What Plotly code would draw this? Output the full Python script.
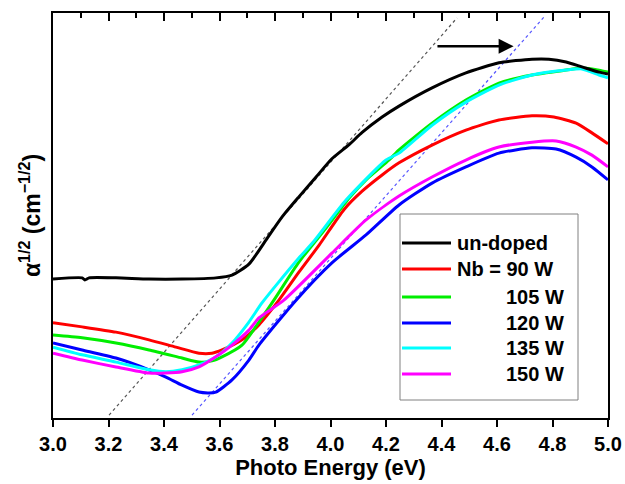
import plotly.graph_objects as go

# ---------------- data ----------------
undoped_E = [3.0, 3.105, 3.115, 3.13, 3.227, 3.346, 3.465, 3.587, 3.645, 3.706, 3.768, 3.825,
             3.886, 3.948, 4.005, 4.067, 4.114, 4.186, 4.247, 4.366, 4.488, 4.607, 4.726,
             4.787, 4.849, 4.906, 4.968, 5.0]
undoped_v = [34.3, 34.6, 34.1, 34.6, 34.6, 34.3, 34.3, 34.6, 35.3, 38.0, 44.0, 49.6,
             54.6, 59.5, 64.0, 67.5, 70.5, 74.3, 77.0, 81.5, 85.2, 87.7, 88.6,
             88.6, 87.9, 86.7, 85.4, 84.9]

nb90_E = [3.0, 3.105, 3.227, 3.346, 3.443, 3.526, 3.573, 3.609, 3.681, 3.742, 3.814, 3.886,
          3.959, 4.049, 4.114, 4.186, 4.247, 4.366, 4.488, 4.607, 4.726, 4.805, 4.885, 4.942, 5.0]
nb90_v = [23.5, 22.5, 21.2, 19.3, 17.5, 16.0, 16.0, 16.8, 19.3, 23.0, 29.1, 36.0,
          42.7, 51.5, 56.0, 60.0, 63.0, 67.4, 71.1, 73.6, 74.6, 74.3, 72.8, 70.4, 67.7]

nb105_E = [3.0, 3.105, 3.227, 3.346, 3.465, 3.526, 3.573, 3.609, 3.681, 3.742, 3.796, 3.886,
           3.984, 4.067, 4.128, 4.211, 4.247, 4.366, 4.488, 4.607, 4.726, 4.849, 4.906, 4.968, 5.0]
nb105_v = [20.5, 19.8, 18.5, 16.8, 14.8, 13.8, 14.1, 15.1, 18.0, 23.7, 29.1, 38.5,
           46.9, 54.3, 58.8, 63.7, 66.2, 72.8, 78.5, 82.7, 84.7, 85.9, 86.4, 85.9, 85.4]

nb120_E = [3.0, 3.105, 3.227, 3.346, 3.407, 3.465, 3.526, 3.562, 3.587, 3.645, 3.706, 3.742,
           3.876, 4.005, 4.128, 4.247, 4.366, 4.488, 4.607, 4.726, 4.813, 4.885, 4.942, 5.0]
nb120_v = [18.5, 16.8, 14.8, 11.9, 10.1, 8.1, 6.4, 6.2, 6.4, 9.4, 14.3, 18.0,
           29.1, 38.3, 45.2, 52.6, 58.0, 62.0, 65.4, 66.7, 66.4, 64.4, 62.0, 58.8]

nb135_E = [3.0, 3.105, 3.227, 3.346, 3.407, 3.465, 3.526, 3.587, 3.645, 3.706, 3.753, 3.814,
           3.886, 3.941, 4.056, 4.200, 4.247, 4.366, 4.488, 4.607, 4.726, 4.849, 4.906, 4.968, 5.0]
nb135_v = [17.5, 15.6, 13.8, 11.9, 11.4, 11.9, 13.1, 15.1, 18.5, 23.7, 28.4, 33.6,
           39.5, 43.7, 53.8, 63.7, 65.4, 72.3, 78.0, 82.2, 84.7, 85.9, 86.2, 84.7, 84.0]

nb150_E = [3.0, 3.105, 3.227, 3.346, 3.407, 3.465, 3.526, 3.587, 3.645, 3.706, 3.742, 3.832,
           4.005, 4.128, 4.247, 4.366, 4.488, 4.607, 4.726, 4.813, 4.885, 4.942, 5.0]
nb150_v = [16.0, 14.3, 12.6, 11.1, 11.1, 11.4, 12.6, 15.1, 18.0, 21.7, 24.7, 29.1,
           40.7, 48.9, 54.8, 59.5, 63.7, 66.9, 68.1, 68.4, 66.9, 64.9, 62.0]

# Tauc-fit guide lines (end points)
fit_undoped_E = [3.202, 4.456]
fit_undoped_v = [0.7, 98.8]
fit_doped_E = [3.501, 4.769]
fit_doped_v = [0.7, 99.0]

# shift arrow
arrow_E = [4.38, 4.66]
arrow_v = [91.8, 91.8]

series_names = ["un-doped", "Nb = 90 W", "105 W", "120 W", "135 W", "150 W"]
series_colors = ["#000000", "#ff0000", "#00ee00", "#0000ff", "#00ffff", "#ff00ff"]
x_tickvals = [3.0, 3.2, 3.4, 3.6, 3.8, 4.0, 4.2, 4.4, 4.6, 4.8, 5.0]
x_ticktext = ["3.0", "3.2", "3.4", "3.6", "3.8", "4.0", "4.2", "4.4", "4.6", "4.8", "5.0"]

series = [(undoped_E, undoped_v), (nb90_E, nb90_v), (nb105_E, nb105_v),
          (nb120_E, nb120_v), (nb135_E, nb135_v), (nb150_E, nb150_v)]

FONT = "Arial, Liberation Sans, sans-serif"

fig = go.Figure()

# dashed fit lines (under the data)
fig.add_trace(go.Scatter(x=fit_undoped_E, y=fit_undoped_v, mode="lines",
                         line=dict(color="#555555", width=1.2, dash="3px,3px"),
                         showlegend=False, hoverinfo="skip"))
fig.add_trace(go.Scatter(x=fit_doped_E, y=fit_doped_v, mode="lines",
                         line=dict(color="#5555ff", width=1.2, dash="3px,3px"),
                         showlegend=False, hoverinfo="skip"))

for i in [1, 2, 3, 4, 5, 0]:
    E, v = series[i]
    fig.add_trace(go.Scatter(x=E, y=v, mode="lines", name=series_names[i],
                             line=dict(color=series_colors[i], width=3, shape="spline", smoothing=0.6),
                             showlegend=False))

# invisible trace that carries the top axis
fig.add_trace(go.Scatter(x=[3.0, 5.0], y=[None, None], xaxis="x2", mode="lines",
                         showlegend=False, hoverinfo="skip"))

# arrow
fig.add_annotation(x=arrow_E[1], y=arrow_v[1], ax=arrow_E[0], ay=arrow_v[0],
                   xref="x", yref="y", axref="x", ayref="y", text="",
                   showarrow=True, arrowhead=2, arrowsize=1.2, arrowwidth=2.5,
                   arrowcolor="#000000")

# ---------------- manual legend ----------------
plot_l, plot_r, plot_t, plot_b = 53, 608, 13, 418
def px_x(px):
    return (px - plot_l) / (plot_r - plot_l)
def px_y(py):
    return (plot_b - py) / (plot_b - plot_t)

fig.add_shape(type="rect", xref="paper", yref="paper",
              x0=px_x(400), x1=px_x(578), y0=px_y(400), y1=px_y(214),
              line=dict(color="#808080", width=1), fillcolor="white", layer="above")
rows = [243, 269, 297, 323, 348, 374]
for i, row in enumerate(rows):
    fig.add_shape(type="line", xref="paper", yref="paper",
                  x0=px_x(402), x1=px_x(451), y0=px_y(row), y1=px_y(row),
                  line=dict(color=series_colors[i], width=3), layer="above")
    if i < 2:
        fig.add_annotation(x=px_x(455), y=px_y(row), xref="paper", yref="paper",
                           text="<b>%s</b>" % series_names[i], showarrow=False,
                           xanchor="left", yanchor="middle",
                           font=dict(family=FONT, size=20, color="black"))
    else:
        fig.add_annotation(x=px_x(566), y=px_y(row), xref="paper", yref="paper",
                           text="<b>%s</b>" % series_names[i], showarrow=False,
                           xanchor="right", yanchor="middle",
                           font=dict(family=FONT, size=20, color="black"))

fig.update_layout(
    width=625, height=484,
    margin=dict(l=53, r=17, t=13, b=66, autoexpand=False),
    paper_bgcolor="white", plot_bgcolor="white",
    showlegend=False,
    font=dict(family=FONT, color="black"),
    xaxis=dict(range=[3.0, 5.0], tickvals=x_tickvals, ticktext=x_ticktext,
               ticks="outside", ticklen=7, tickwidth=2, tickcolor="black",
               showline=True, linewidth=2, linecolor="black", mirror=True,
               showgrid=False, zeroline=False, automargin=False,
               tickfont=dict(family=FONT, size=20, color="black", weight="bold"),
               title=dict(text="<b>Photo Energy (eV)</b>", standoff=6,
                          font=dict(family=FONT, size=22, color="black"))),
    xaxis2=dict(range=[3.0, 5.0], overlaying="x", side="top", anchor="y",
                tick0=3.0, dtick=0.2, ticks="inside", ticklen=8, tickwidth=2,
                tickcolor="black", showticklabels=False, showgrid=False,
                zeroline=False, showline=False, automargin=False,
                minor=dict(dtick=0.1, tick0=3.0, ticks="inside", ticklen=5,
                           tickwidth=2, tickcolor="black", showgrid=False)),
    yaxis=dict(range=[0, 100], showticklabels=False, ticks="",
               showline=True, linewidth=2, linecolor="black", mirror=True,
               showgrid=False, zeroline=False, automargin=False,
               title=dict(text="<b>α<sup>1/2</sup> (cm<sup>−1/2</sup>)</b>", standoff=4,
                          font=dict(family=FONT, size=23, color="black"))),
)

fig.write_html("out.html", config={"displayModeBar": False},
               post_script="document.body.style.margin='0px';document.body.style.overflow='hidden';")
